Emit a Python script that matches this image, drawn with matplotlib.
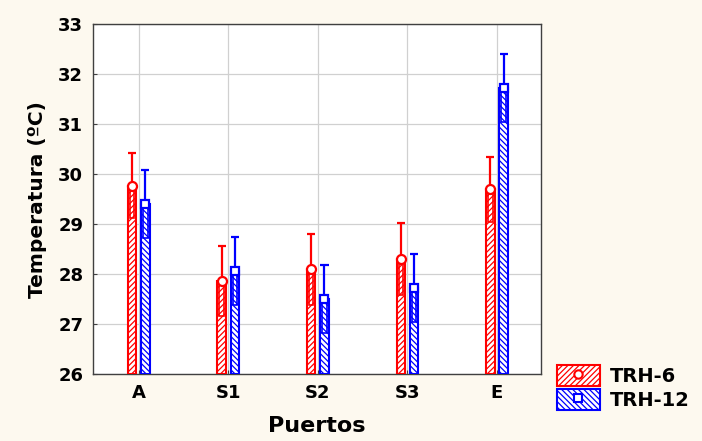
import matplotlib
matplotlib.use("Agg")
import matplotlib.pyplot as plt
from matplotlib.patches import Patch, Rectangle
from matplotlib.lines import Line2D
import numpy as np

plt.rcParams['font.family'] = ['DejaVu Sans']
plt.rcParams['font.weight'] = 'bold'
plt.rcParams['hatch.linewidth'] = 0.9

categories = ["A", "S1", "S2", "S3", "E"]
trh6_mean = [29.77, 27.86, 28.10, 28.30, 29.70]
trh6_err = [0.65, 0.70, 0.71, 0.72, 0.65]
trh12_mean = [29.40, 28.07, 27.50, 27.73, 31.73]
trh12_err = [0.68, 0.68, 0.68, 0.68, 0.68]
series_names = ["TRH-6", "TRH-12"]

BG = "#fdf9ef"
RED = "#ff0000"
BLUE = "#0000ff"
BASE = 26.0

fig = plt.figure(figsize=(7.02, 4.41), dpi=100, facecolor=BG)
ax = fig.add_axes([0.1325, 0.152, 0.638, 0.7925])
ax.set_facecolor("white")

x = np.arange(len(categories))
off = 0.074
w = 0.095

series = [
    (trh6_mean, trh6_err, RED, "//////", "o", 6.5, -off),
    (trh12_mean, trh12_err, BLUE, "\\\\\\\\\\\\", "s", 6.0, off),
]

for means, errs, col, hatch, mk, ms, dx in series:
    xs = x + dx
    m = np.array(means)
    e = np.array(errs)
    ax.bar(xs, m - BASE, bottom=BASE, width=w, facecolor="white",
           edgecolor=col, hatch=hatch, linewidth=1.5, zorder=3)
    # lower half of the interval, drawn as a narrow box inside the bar
    for xi, mi, ei in zip(xs, m, e):
        ax.add_patch(Rectangle((xi - w * 0.26, mi - ei), w * 0.52, ei,
                               facecolor="none", edgecolor=col,
                               linewidth=1.2, zorder=4))
    # upper whisker with cap
    ax.vlines(xs, m, m + e, color=col, linewidth=1.6, zorder=4)
    ax.hlines(m + e, xs - 0.045, xs + 0.045, color=col, linewidth=1.6, zorder=4)
    ax.plot(xs, m, linestyle="none", marker=mk, markersize=ms,
            markerfacecolor="white", markeredgecolor=col,
            markeredgewidth=1.6, zorder=5)

ax.set_xlim(-0.51, 4.49)
ax.set_ylim(26, 33)
ax.set_xticks(x)
ax.set_xticklabels(categories)
ax.set_yticks(np.arange(26, 34, 1))
ax.grid(True, color="#d0d0d0", linewidth=0.9, zorder=0)
ax.set_axisbelow(True)
ax.tick_params(axis="both", direction="in", length=3, labelsize=13,
               width=0.8, color="#404040", pad=7)
for lab in ax.get_xticklabels() + ax.get_yticklabels():
    lab.set_fontweight("bold")
for sp in ax.spines.values():
    sp.set_color("#404040")
    sp.set_linewidth(1.0)

ax.set_xlabel("Puertos", fontsize=16, fontweight="bold", labelpad=10)
ax.set_ylabel("Temperatura (ºC)", fontsize=14.5, fontweight="bold", labelpad=8)

handles = [
    (Patch(facecolor="white", edgecolor=RED, hatch="//////", linewidth=1.5),
     Line2D([], [], linestyle="none", marker="o", markersize=6,
            markerfacecolor="white", markeredgecolor=RED, markeredgewidth=1.5)),
    (Patch(facecolor="white", edgecolor=BLUE, hatch="\\\\\\\\\\\\", linewidth=1.5),
     Line2D([], [], linestyle="none", marker="s", markersize=6,
            markerfacecolor="white", markeredgecolor=BLUE, markeredgewidth=1.5)),
]
fig.legend(handles, series_names, loc="lower left",
           bbox_to_anchor=(0.782, 0.052), frameon=False,
           prop={"size": 14, "weight": "bold"},
           handlelength=2.2, handleheight=1.3, handletextpad=0.55,
           labelspacing=0.15, borderaxespad=0)

fig.savefig("out.png", dpi=100, facecolor=BG)
